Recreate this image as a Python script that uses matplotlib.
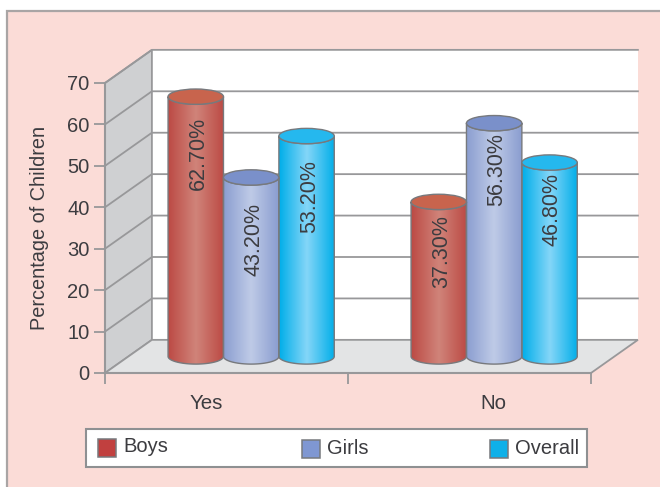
import numpy as np
import matplotlib
matplotlib.use("Agg")
import matplotlib.pyplot as plt
from matplotlib.colors import LinearSegmentedColormap
from matplotlib.patches import Ellipse, Polygon, Rectangle

plt.rcParams['font.family'] = ['Liberation Sans', 'DejaVu Sans']

groups = ["Yes", "No"]
series = ["Boys", "Girls", "Overall"]
boys = [62.7, 37.3]
girls = [43.2, 56.3]
overall = [53.2, 46.8]
yticks = [0, 10, 20, 30, 40, 50, 60, 70]

# style per series: edge of cylinder, middle of cylinder, top cap, legend box
colors = {
    "Boys": ("#bc4a44", "#d0847a", "#c8644d", "#c1403f"),
    "Girls": ("#8a9dd0", "#bfcbe7", "#7a90ca", "#7f97d2"),
    "Overall": ("#00aee9", "#85d6f8", "#25b8ee", "#0fb0e8"),
}
# how far the rotated labels sit below the bar top
label_drop = {"Boys": [13.8, 12.1], "Girls": [15.0, 11.1], "Overall": [14.7, 11.4]}

W, H = 660, 487
text_col = "#3c3c40"
grid_col = "#98989a"

fig = plt.figure(figsize=(W / 100, H / 100), dpi=100, facecolor="white")


def fx(x):
    return x / W


def fy(y):
    return 1 - y / H


# pink panel, runs off the right and bottom edges
fig.add_artist(Rectangle((fx(7), -0.02), 1.1 - fx(7), fy(11) + 0.02, transform=fig.transFigure,
                         fc="#fbdcd7", ec="#a9a5a5", lw=1.6, zorder=-1))

ax = fig.add_axes([fx(105), fy(373), 486 / W, 290 / H], facecolor="none")
ax.set_xlim(0, 2)
ax.set_ylim(0, 70)

# depth of the fake 3d box, in data units
dx, dy = 0.193, 8.0

ax.add_patch(Polygon([(dx, dy), (2 + dx, dy), (2 + dx, 70 + dy), (dx, 70 + dy)],
                     fc="white", ec="none", clip_on=False, zorder=1))
ax.add_patch(Polygon([(0, 0), (dx, dy), (dx, 70 + dy), (0, 70)],
                     fc="#cfd0d2", ec=grid_col, lw=1.3, clip_on=False, zorder=1))
ax.add_patch(Polygon([(0, 0), (2, 0), (2 + dx, dy), (dx, dy)],
                     fc="#e3e4e5", ec=grid_col, lw=1.3, clip_on=False, zorder=1))
for v in yticks[1:]:
    ax.plot([0, dx, 2 + dx], [v, v + dy, v + dy], color=grid_col, lw=1.3,
            clip_on=False, zorder=2)

bar_w = 0.228
cap_h = 3.7
group_pos = [0.505, 1.505]
offsets = [-bar_w, 0, bar_w]
shift_x, shift_y = dx / 2, dy / 2


def cylinder(x, val, name):
    edge, mid, top, _ = colors[name]
    left, right = x - bar_w / 2, x + bar_w / 2
    base, roof = shift_y, shift_y + val
    t = np.linspace(np.pi, 2 * np.pi, 60)
    bx = x + bar_w / 2 * np.cos(t)
    by = base + cap_h / 2 * np.sin(t)
    tx = x + bar_w / 2 * np.cos(t[::-1])
    ty = roof + cap_h / 2 * np.sin(t[::-1])
    verts = np.column_stack([np.r_[bx, tx], np.r_[by, ty]])
    body = Polygon(verts, closed=True, fc="none", ec="#77797d", lw=1.0, clip_on=False, zorder=4)
    ax.add_patch(body)
    cmap = LinearSegmentedColormap.from_list(name, [edge, mid, edge])
    grad = np.linspace(0, 1, 128).reshape(1, -1)
    im = ax.imshow(grad, cmap=cmap, extent=[left, right, base - cap_h, roof + cap_h],
                   aspect="auto", zorder=3, interpolation="bilinear")
    im.set_clip_path(Polygon(verts, closed=True, transform=ax.transData))
    ax.add_patch(Ellipse((x, roof), bar_w, cap_h, fc=top, ec="#77797d", lw=1.0,
                         clip_on=False, zorder=5))


for name, vals, off in zip(series, [boys, girls, overall], offsets):
    for i, val in enumerate(vals):
        xc = group_pos[i] + off + shift_x
        cylinder(xc, val, name)
        ax.text(xc + 0.011, shift_y + val - label_drop[name][i], f"{val:.2f}%", rotation=90,
                ha="center", va="center", fontsize=15.5, color=text_col, zorder=6)

ax.set_xlim(0, 2)
ax.set_ylim(0, 70)

for s in ["top", "right"]:
    ax.spines[s].set_visible(False)
for s in ["left", "bottom"]:
    ax.spines[s].set_color(grid_col)
    ax.spines[s].set_linewidth(1.5)
ax.set_yticks(yticks)
ax.set_xticks([0, 1, 2])
ax.set_xticklabels([])
ax.set_xticks([0.415, 1.598], minor=True)
ax.set_xticklabels(groups, minor=True)
ax.tick_params(axis="x", which="major", length=8, width=1.3, color=grid_col)
ax.tick_params(axis="x", which="minor", length=0, pad=15, labelsize=14.8, labelcolor=text_col)
ax.tick_params(axis="y", length=8, width=1.3, color=grid_col, labelsize=14.5,
               labelcolor=text_col, pad=3)
ax.set_ylabel("Percentage of Children", fontsize=14.3, color=text_col, labelpad=13)

# legend strip
fig.add_artist(Rectangle((fx(86), fy(467)), (587 - 86) / W, (467 - 429) / H,
                         transform=fig.transFigure, fc="white", ec="#8e9092", lw=1.5))
legend_x = [98, 302, 490]
legend_y = [439, 440, 440]
for name, lx, ly in zip(series, legend_x, legend_y):
    fig.add_artist(Rectangle((fx(lx), fy(ly + 18)), 18 / W, 18 / H, transform=fig.transFigure,
                             fc=colors[name][3], ec="#77797d", lw=1.1))
    fig.text(fx(lx + 25), fy(ly + 8), name, fontsize=14.5, color=text_col, va="center", ha="left")

fig.savefig("out.png", dpi=100)
